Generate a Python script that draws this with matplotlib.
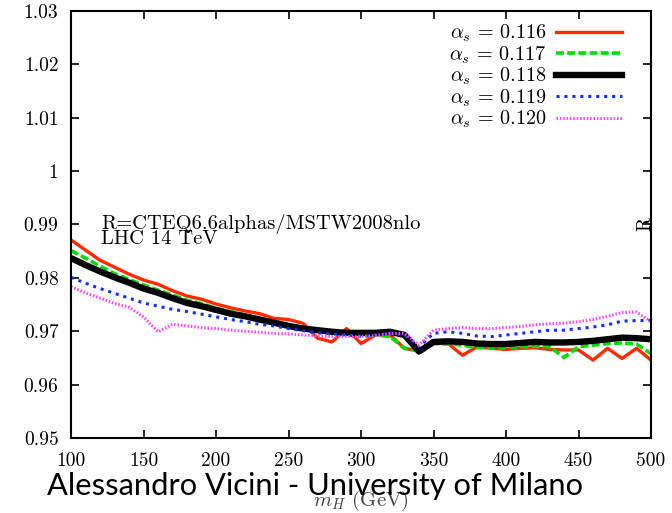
import matplotlib
matplotlib.use("Agg")
import matplotlib.pyplot as plt

plt.rcParams['font.family'] = 'serif'
plt.rcParams['font.serif'] = ['cmr10']
plt.rcParams['mathtext.fontset'] = 'cm'
plt.rcParams['axes.formatter.use_mathtext'] = True

# Higgs mass points (GeV)
mh = [100, 110, 120, 130, 140, 150, 160, 170, 180, 190,
      200, 210, 220, 230, 240, 250, 260, 270, 280, 290,
      300, 310, 320, 330, 340, 350, 360, 370, 380, 390,
      400, 410, 420, 430, 440, 450, 460, 470, 480, 490, 500]

r_0116 = [0.9871, 0.9852, 0.9833, 0.9820, 0.9807, 0.9796, 0.9788, 0.9776, 0.9766, 0.9760,
          0.9751, 0.9744, 0.9738, 0.9733, 0.9724, 0.9722, 0.9715, 0.9687, 0.9680, 0.9705,
          0.9677, 0.9693, 0.9693, 0.9668, 0.9663, 0.9678, 0.9677, 0.9655, 0.9671, 0.9668,
          0.9666, 0.9668, 0.9669, 0.9666, 0.9665, 0.9665, 0.9646, 0.9668, 0.9649, 0.9668, 0.9646]
r_0117 = [0.9851, 0.9837, 0.9822, 0.9808, 0.9797, 0.9787, 0.9777, 0.9768, 0.9758, 0.9752,
          0.9743, 0.9737, 0.9730, 0.9724, 0.9718, 0.9712, 0.9707, 0.9702, 0.9699, 0.9697,
          0.9694, 0.9693, 0.9690, 0.9668, 0.9663, 0.9677, 0.9676, 0.9674, 0.9669, 0.9669,
          0.9670, 0.9671, 0.9672, 0.9671, 0.9651, 0.9671, 0.9674, 0.9677, 0.9678, 0.9676, 0.9658]
r_0118 = [0.9837, 0.9824, 0.9812, 0.9801, 0.9791, 0.9780, 0.9772, 0.9762, 0.9753, 0.9747,
          0.9740, 0.9733, 0.9728, 0.9722, 0.9716, 0.9710, 0.9705, 0.9702, 0.9699, 0.9697,
          0.9697, 0.9697, 0.9699, 0.9693, 0.9662, 0.9680, 0.9681, 0.9680, 0.9677, 0.9676,
          0.9676, 0.9678, 0.9680, 0.9679, 0.9679, 0.9680, 0.9682, 0.9685, 0.9688, 0.9687, 0.9685]
r_0119 = [0.9801, 0.9790, 0.9780, 0.9771, 0.9762, 0.9753, 0.9747, 0.9741, 0.9737, 0.9732,
          0.9727, 0.9722, 0.9718, 0.9713, 0.9710, 0.9705, 0.9701, 0.9697, 0.9695, 0.9693,
          0.9690, 0.9693, 0.9696, 0.9693, 0.9671, 0.9696, 0.9699, 0.9696, 0.9691, 0.9690,
          0.9693, 0.9696, 0.9699, 0.9702, 0.9702, 0.9705, 0.9708, 0.9712, 0.9719, 0.9720, 0.9720]
r_0120 = [0.9783, 0.9772, 0.9762, 0.9752, 0.9745, 0.9727, 0.9699, 0.9713, 0.9710, 0.9707,
          0.9705, 0.9702, 0.9700, 0.9698, 0.9696, 0.9695, 0.9693, 0.9691, 0.9690, 0.9690,
          0.9690, 0.9692, 0.9696, 0.9696, 0.9674, 0.9702, 0.9705, 0.9707, 0.9705, 0.9705,
          0.9707, 0.9709, 0.9712, 0.9714, 0.9715, 0.9718, 0.9722, 0.9728, 0.9735, 0.9736, 0.9718]

labels = [r'$\alpha_s\,=\,0.116$', r'$\alpha_s\,=\,0.117$', r'$\alpha_s\,=\,0.118$',
          r'$\alpha_s\,=\,0.119$', r'$\alpha_s\,=\,0.120$']

x_ticks = [100, 150, 200, 250, 300, 350, 400, 450, 500]
y_ticks = [0.95, 0.96, 0.97, 0.98, 0.99, 1.00, 1.01, 1.02, 1.03]
y_tick_labels = ['0.95', '0.96', '0.97', '0.98', '0.99', '1', '1.01', '1.02', '1.03']

fig = plt.figure(figsize=(6.72, 5.13), dpi=100)
ax = fig.add_axes([0.1057, 0.1462, 0.8631, 0.8324])

ax.plot(mh, r_0116, color='#ff2a00', lw=2.4, ls='-', label=labels[0])
ax.plot(mh, r_0117, color='#00dd00', lw=2.6, ls=(0, (2.2, 0.9)), label=labels[1])
ax.plot(mh, r_0118, color='black', lw=4.6, ls='-', label=labels[2])
ax.plot(mh, r_0119, color='#1030ff', lw=2.2, ls=(0, (1.0, 1.6)), label=labels[3])
ax.plot(mh, r_0120, color='#ff44ff', lw=2.2, ls=(0, (0.5, 0.6)), label=labels[4])

ax.set_xlim(100, 500)
ax.set_ylim(0.95, 1.03)
ax.set_xticks(x_ticks)
ax.set_xticklabels([str(t) for t in x_ticks])
ax.set_yticks(y_ticks)
ax.set_yticklabels(y_tick_labels)
ax.tick_params(direction='in', length=6, width=1.2, labelsize=14,
               top=True, right=True, pad=10)
ax.tick_params(axis='y', pad=9)
for sp in ax.spines.values():
    sp.set_linewidth(1.5)

ax.set_xlabel(r'$m_H$ (GeV)', fontsize=15, color='#444444', labelpad=14)

leg = ax.legend(loc='upper right', frameon=False, markerfirst=False,
                fontsize=14.5, handlelength=3.3, labelspacing=0.0,
                borderaxespad=0.3, handletextpad=0.5,
                bbox_to_anchor=(0.975, 1.005))

ax.text(0.052, 0.485, 'R=CTEQ6.6alphas/MSTW2008nlo\nLHC 14 TeV',
        transform=ax.transAxes, fontsize=14.8, ha='left', va='center',
        linespacing=0.72)

ax.text(0.99, 0.502, 'R', transform=ax.transAxes, rotation=90,
        fontsize=14, ha='center', va='center', clip_on=False)

fig.text(0.07, 0.035, 'Alessandro Vicini - University of Milano',
         family='Lato', fontsize=22.2, color='black', ha='left', va='baseline')

fig.savefig('out.png', dpi=100)
